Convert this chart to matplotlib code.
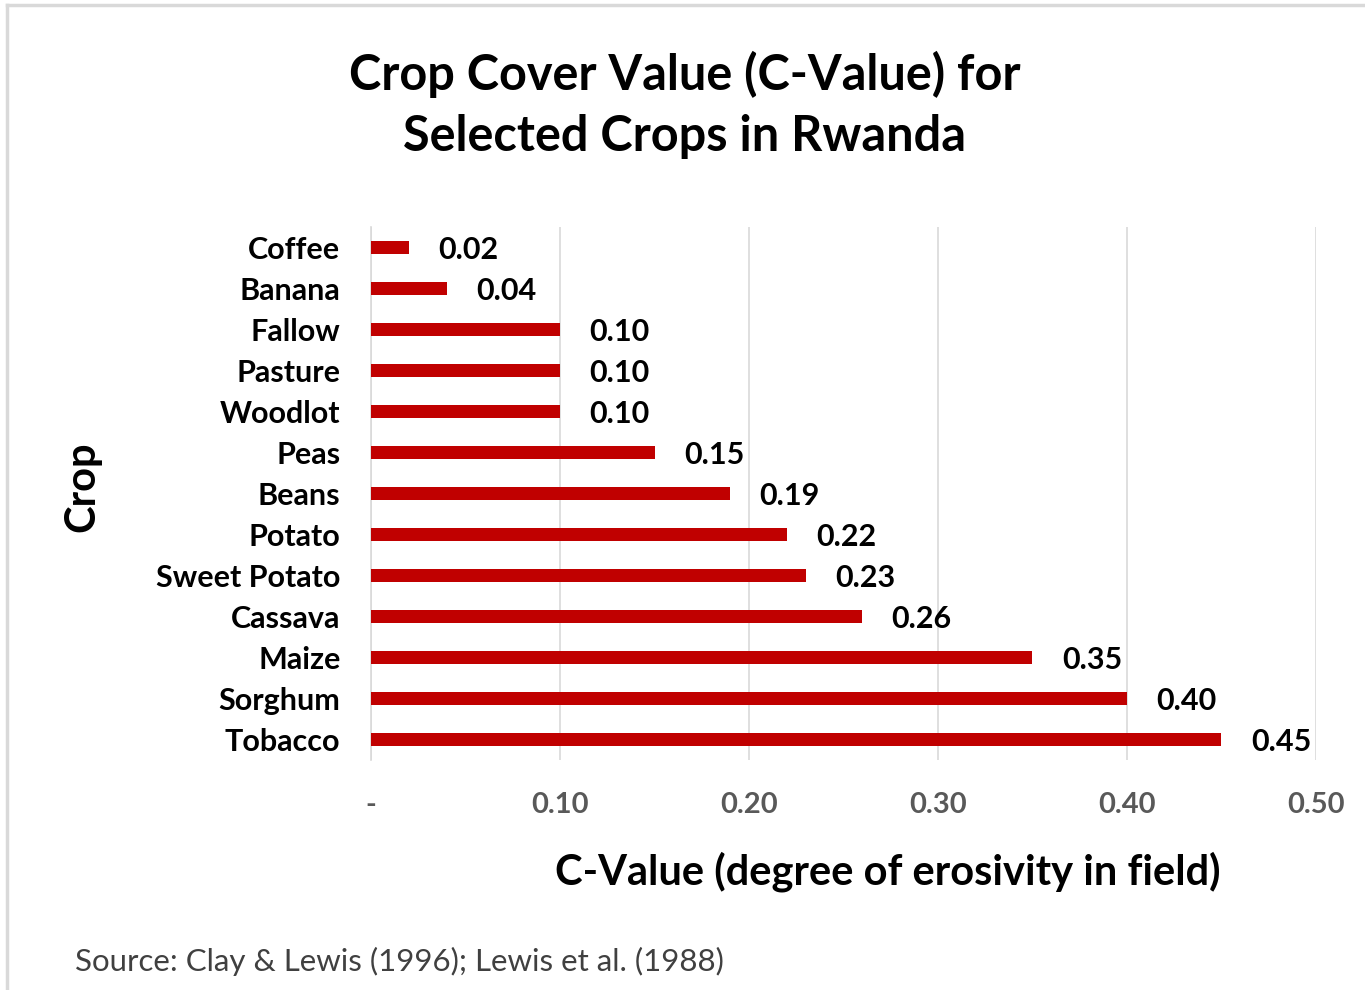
import matplotlib.pyplot as plt
from matplotlib.lines import Line2D
from matplotlib.ticker import FuncFormatter

# datos del grafico (de arriba hacia abajo en la imagen)
cultivos = ["Coffee", "Banana", "Fallow", "Pasture", "Woodlot", "Peas", "Beans",
            "Potato", "Sweet Potato", "Cassava", "Maize", "Sorghum", "Tobacco"]
valores_c = [0.02, 0.04, 0.10, 0.10, 0.10, 0.15, 0.19, 0.22, 0.23, 0.26, 0.35, 0.40, 0.45]
ticks_x = [0.0, 0.1, 0.2, 0.3, 0.4, 0.5]

plt.rcParams['font.family'] = ['Lato', 'DejaVu Sans']

fig = plt.figure(figsize=(13.65, 9.9), dpi=100)
ax = fig.add_axes([0.2718, 0.2323, 0.6923, 0.5384])

posiciones = list(range(len(cultivos)))[::-1]
ax.barh(posiciones, valores_c, height=0.34, color="#C00000", zorder=3)

for p, v in zip(posiciones, valores_c):
    ax.text(v + 0.0155, p - 0.05, f"{v:.2f}", va="center", ha="left",
            fontsize=22, fontweight="bold", color="black")

ax.set_xlim(0, 0.5)
ax.set_ylim(-0.5, len(cultivos) - 0.5)
ax.set_yticks(posiciones)
ax.set_yticklabels(cultivos, fontsize=22, fontweight="bold")
ax.set_xticks(ticks_x)
ax.xaxis.set_major_formatter(FuncFormatter(lambda x, pos: "-" if x == 0 else f"{x:.2f}"))
for lbl in ax.get_xticklabels():
    lbl.set_fontsize(21)
    lbl.set_fontweight("bold")
    lbl.set_color("#595959")

ax.tick_params(axis="x", length=0, pad=23)
ax.tick_params(axis="y", length=0, pad=22)
ax.grid(axis="x", color="#D9D9D9", linewidth=1.2, zorder=0)
for s in ["top", "right", "bottom"]:
    ax.spines[s].set_visible(False)
ax.spines["left"].set_color("#D9D9D9")
ax.spines["left"].set_linewidth(1.2)

fig.text(0.5015, 0.925, "Crop Cover Value (C-Value) for", ha="center", va="center",
         fontsize=35, fontweight="bold")
fig.text(0.5015, 0.862, "Selected Crops in Rwanda", ha="center", va="center",
         fontsize=35, fontweight="bold")
fig.text(0.6505, 0.12, "C-Value (degree of erosivity in field)", ha="center", va="center",
         fontsize=30, fontweight="bold")
fig.text(0.06, 0.508, "Crop", ha="center", va="center", rotation=90,
         fontsize=30, fontweight="bold")
fig.text(0.055, 0.029, "Source: Clay & Lewis (1996); Lewis et al. (1988)", ha="left",
         va="center", fontsize=22.5, color="#404040")

# borde gris del recuadro
fig.add_artist(Line2D([0.005, 0.005], [0, 0.995], transform=fig.transFigure,
                      color="#D9D9D9", linewidth=2.5))
fig.add_artist(Line2D([0.005, 1], [0.995, 0.995], transform=fig.transFigure,
                      color="#D9D9D9", linewidth=2.5))

fig.savefig("out.png", dpi=100)
